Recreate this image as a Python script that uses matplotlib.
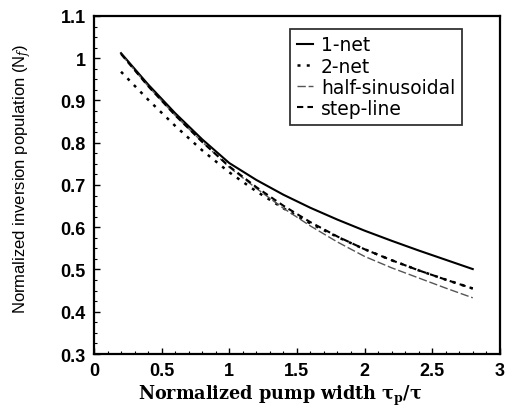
import matplotlib
matplotlib.use("Agg")
import matplotlib.pyplot as plt
from matplotlib.ticker import MultipleLocator

plt.rcParams["mathtext.fontset"] = "dejavuserif"

x = [0.2, 0.4, 0.6, 0.8, 1.0, 1.2, 1.4, 1.6, 1.8, 2.0, 2.2, 2.4, 2.6, 2.8]
one_net = [1.012, 0.938, 0.870, 0.808, 0.752, 0.712, 0.677, 0.646, 0.618, 0.592, 0.568, 0.545, 0.523, 0.501]
two_net = [0.968, 0.902, 0.840, 0.782, 0.730, 0.685, 0.645, 0.609, 0.577, 0.548, 0.522, 0.498, 0.476, 0.455]
half_sin = [1.010, 0.934, 0.865, 0.802, 0.742, 0.692, 0.645, 0.603, 0.565, 0.531, 0.504, 0.480, 0.456, 0.433]
step_line = [1.010, 0.934, 0.865, 0.802, 0.744, 0.695, 0.651, 0.612, 0.578, 0.548, 0.522, 0.498, 0.476, 0.455]

fig = plt.figure(figsize=(5.25, 4.14), dpi=100)
ax = fig.add_axes([0.179, 0.1425, 0.773, 0.8165])

ax.plot(x, one_net, color="black", lw=1.5, ls="-", label="1-net")
ax.plot(x, two_net, color="black", lw=1.8, ls=(0, (1.2, 2.5)), label="2-net")
ax.plot(x, half_sin, color="#555555", lw=1.0, ls=(0, (6, 2)), label="half-sinusoidal")
ax.plot(x, step_line, color="black", lw=1.5, ls=(0, (3, 2)), label="step-line")

ax.set_xlim(0, 3)
ax.set_ylim(0.3, 1.1)
ax.xaxis.set_minor_locator(MultipleLocator(0.1))
ax.yaxis.set_minor_locator(MultipleLocator(0.025))
ax.set_xticks([0, 0.5, 1, 1.5, 2, 2.5, 3])
ax.set_xticklabels(["0", "0.5", "1", "1.5", "2", "2.5", "3"])
ax.set_yticks([0.3, 0.4, 0.5, 0.6, 0.7, 0.8, 0.9, 1.0, 1.1])
ax.set_yticklabels(["0.3", "0.4", "0.5", "0.6", "0.7", "0.8", "0.9", "1", "1.1"])
ax.tick_params(which="both", direction="in", top=False, right=False)
ax.tick_params(which="major", length=4, width=1, pad=6)
ax.tick_params(which="minor", length=2, width=0.8)
for lab in ax.get_xticklabels() + ax.get_yticklabels():
    lab.set_fontfamily("Liberation Sans")
    lab.set_fontweight("bold")
    lab.set_fontsize(13)
for s in ax.spines.values():
    s.set_linewidth(1.6)

ax.set_xlabel(r"Normalized pump width $\mathbf{\tau_p/\tau}$", family="DejaVu Serif",
              fontweight="bold", fontsize=12.7, labelpad=4)
ax.xaxis.set_label_coords(0.46, -0.085)
ax.set_ylabel(r"Normalized inversion population (N$_f$)", family="Liberation Sans",
              fontsize=12)
ax.yaxis.set_label_coords(-0.15, 0.52)

leg = ax.legend(
    loc="upper left", bbox_to_anchor=(0.46, 0.99), frameon=True, fancybox=False,
    edgecolor="black", handlelength=0.9, handletextpad=0.4, borderpad=0.35,
    labelspacing=0.12, prop={"family": "DejaVu Sans", "size": 13.5})
leg.get_frame().set_linewidth(1.3)

fig.savefig("out.png", dpi=100)
